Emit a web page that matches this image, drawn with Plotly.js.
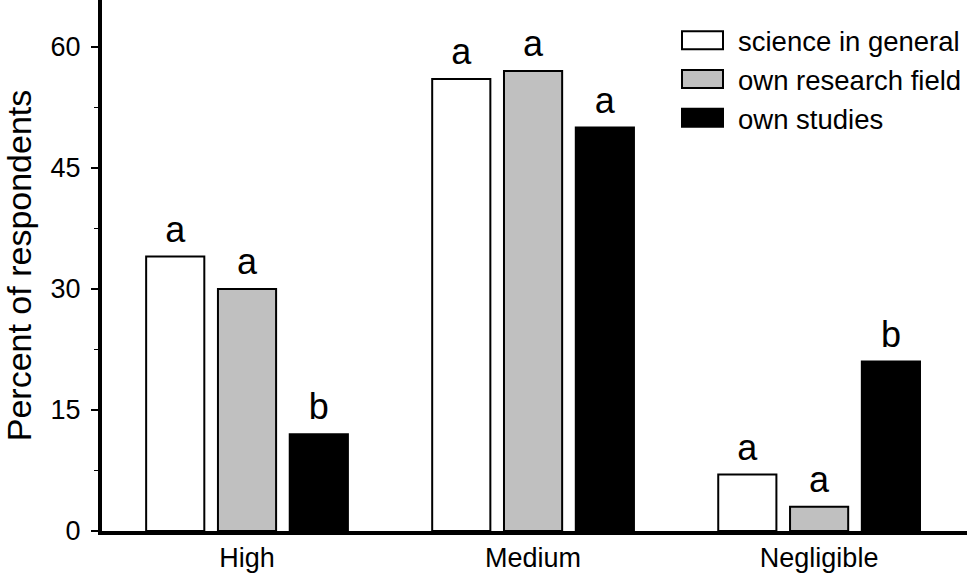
<!DOCTYPE html>
<html>
<head>
<meta charset="utf-8">
<script src="https://cdn.plot.ly/plotly-3.0.1.min.js"></script>
<style>html,body{margin:0;padding:0;background:#fff;}#chart{width:967px;height:574px;}</style>
</head>
<body>
<div id="chart"></div>
<script>
const categories = ["High", "Medium", "Negligible"];
const seriesNames = ["science in general", "own research field", "own studies"];
const scienceInGeneral = [34, 56, 7];
const ownResearchField = [30, 57, 3];
const ownStudies = [12, 50, 21];
const lettersGeneral = ["a", "a", "a"];
const lettersResearch = ["a", "a", "a"];
const lettersStudies = ["b", "a", "b"];
const fills = ["#ffffff", "#c0c0c0", "#000000"];

const FONT = "Liberation Sans, Arial, Helvetica, sans-serif";
const values = [scienceInGeneral, ownResearchField, ownStudies];
const letters = [lettersGeneral, lettersResearch, lettersStudies];

const traces = [];
values.forEach((v, i) => {
  traces.push({
    type: "bar", x: categories, y: v, name: seriesNames[i],
    offsetgroup: "g" + i,
    marker: {color: fills[i], line: {color: "#000", width: 2}},
    hoverinfo: "skip"
  });
});
values.forEach((v, i) => {
  traces.push({
    type: "scatter", mode: "markers+text", x: categories, y: v,
    offsetgroup: "g" + i,
    text: letters[i], textposition: "top center",
    textfont: {family: FONT, size: 36, color: "#000"},
    marker: {size: 8, opacity: 0},
    showlegend: false, hoverinfo: "skip", cliponaxis: false
  });
});

const layout = {
  width: 967, height: 574,
  margin: {l: 102, r: 0, t: 0, b: 43},
  paper_bgcolor: "#fff", plot_bgcolor: "#fff",
  font: {family: FONT, size: 27, color: "#000"},
  barmode: "group", bargap: 0.247, bargroupgap: 0.19,
  scattermode: "group", scattergap: 0.247,
  showlegend: true,
  legend: {x: 1, xanchor: "right", y: 0.97, yanchor: "top",
           font: {family: FONT, size: 27.5, color: "#000"},
           itemwidth: 50,
           bgcolor: "rgba(0,0,0,0)", borderwidth: 0, tracegroupgap: 0},
  xaxis: {
    type: "category", range: [-0.507, 2.517],
    showline: true, linewidth: 4, linecolor: "#000",
    ticks: "", showgrid: false, zeroline: false,
    tickfont: {family: FONT, size: 27, color: "#000"}
  },
  yaxis: {
    range: [0, 65.8], dtick: 15, tick0: 0,
    showline: true, linewidth: 4, linecolor: "#000",
    ticks: "outside", ticklen: 7, tickwidth: 2, tickcolor: "#000",
    minor: {dtick: 7.5, ticks: "outside", ticklen: 4, tickwidth: 1, tickcolor: "#000", showgrid: false},
    showgrid: false, zeroline: false,
    ticklabelstandoff: 5,
    tickfont: {family: FONT, size: 27, color: "#000"},
    title: {text: "Percent of respondents", font: {family: FONT, size: 34, color: "#000"}, standoff: 16}
  }
};

Plotly.newPlot("chart", traces, layout, {staticPlot: true, displayModeBar: false}).then(function (gd) {
  // widen legend swatches into boxes like the original
  gd.querySelectorAll(".legend .traces").forEach(function (tr) {
    const path = tr.querySelector(".legendpoints path");
    const txt = tr.querySelector("text.legendtext");
    if (!path || !txt) return;
    const pb = path.getBoundingClientRect();
    const tb = txt.getBoundingClientRect();
    const bb = path.getBBox();
    const cxLocal = bb.x + bb.width / 2;
    const cyLocal = bb.y + bb.height / 2;
    const targetCx = tb.left - 15 - 20.5;
    const dx = targetCx - (pb.left + pb.width / 2);
    const c = cxLocal + dx, hw = 20.5, hh = 9;
    path.setAttribute("d", "M" + (c + hw) + "," + (cyLocal + hh) + "H" + (c - hw) + "V" + (cyLocal - hh) + "H" + (c + hw) + "Z");
  });
  const clip = gd.querySelector(".legend");
  if (clip) clip.removeAttribute("clip-path");
  gd.querySelectorAll(".legend .scrollbox").forEach(function (s) { s.removeAttribute("clip-path"); });
});
</script>
</body>
</html>
